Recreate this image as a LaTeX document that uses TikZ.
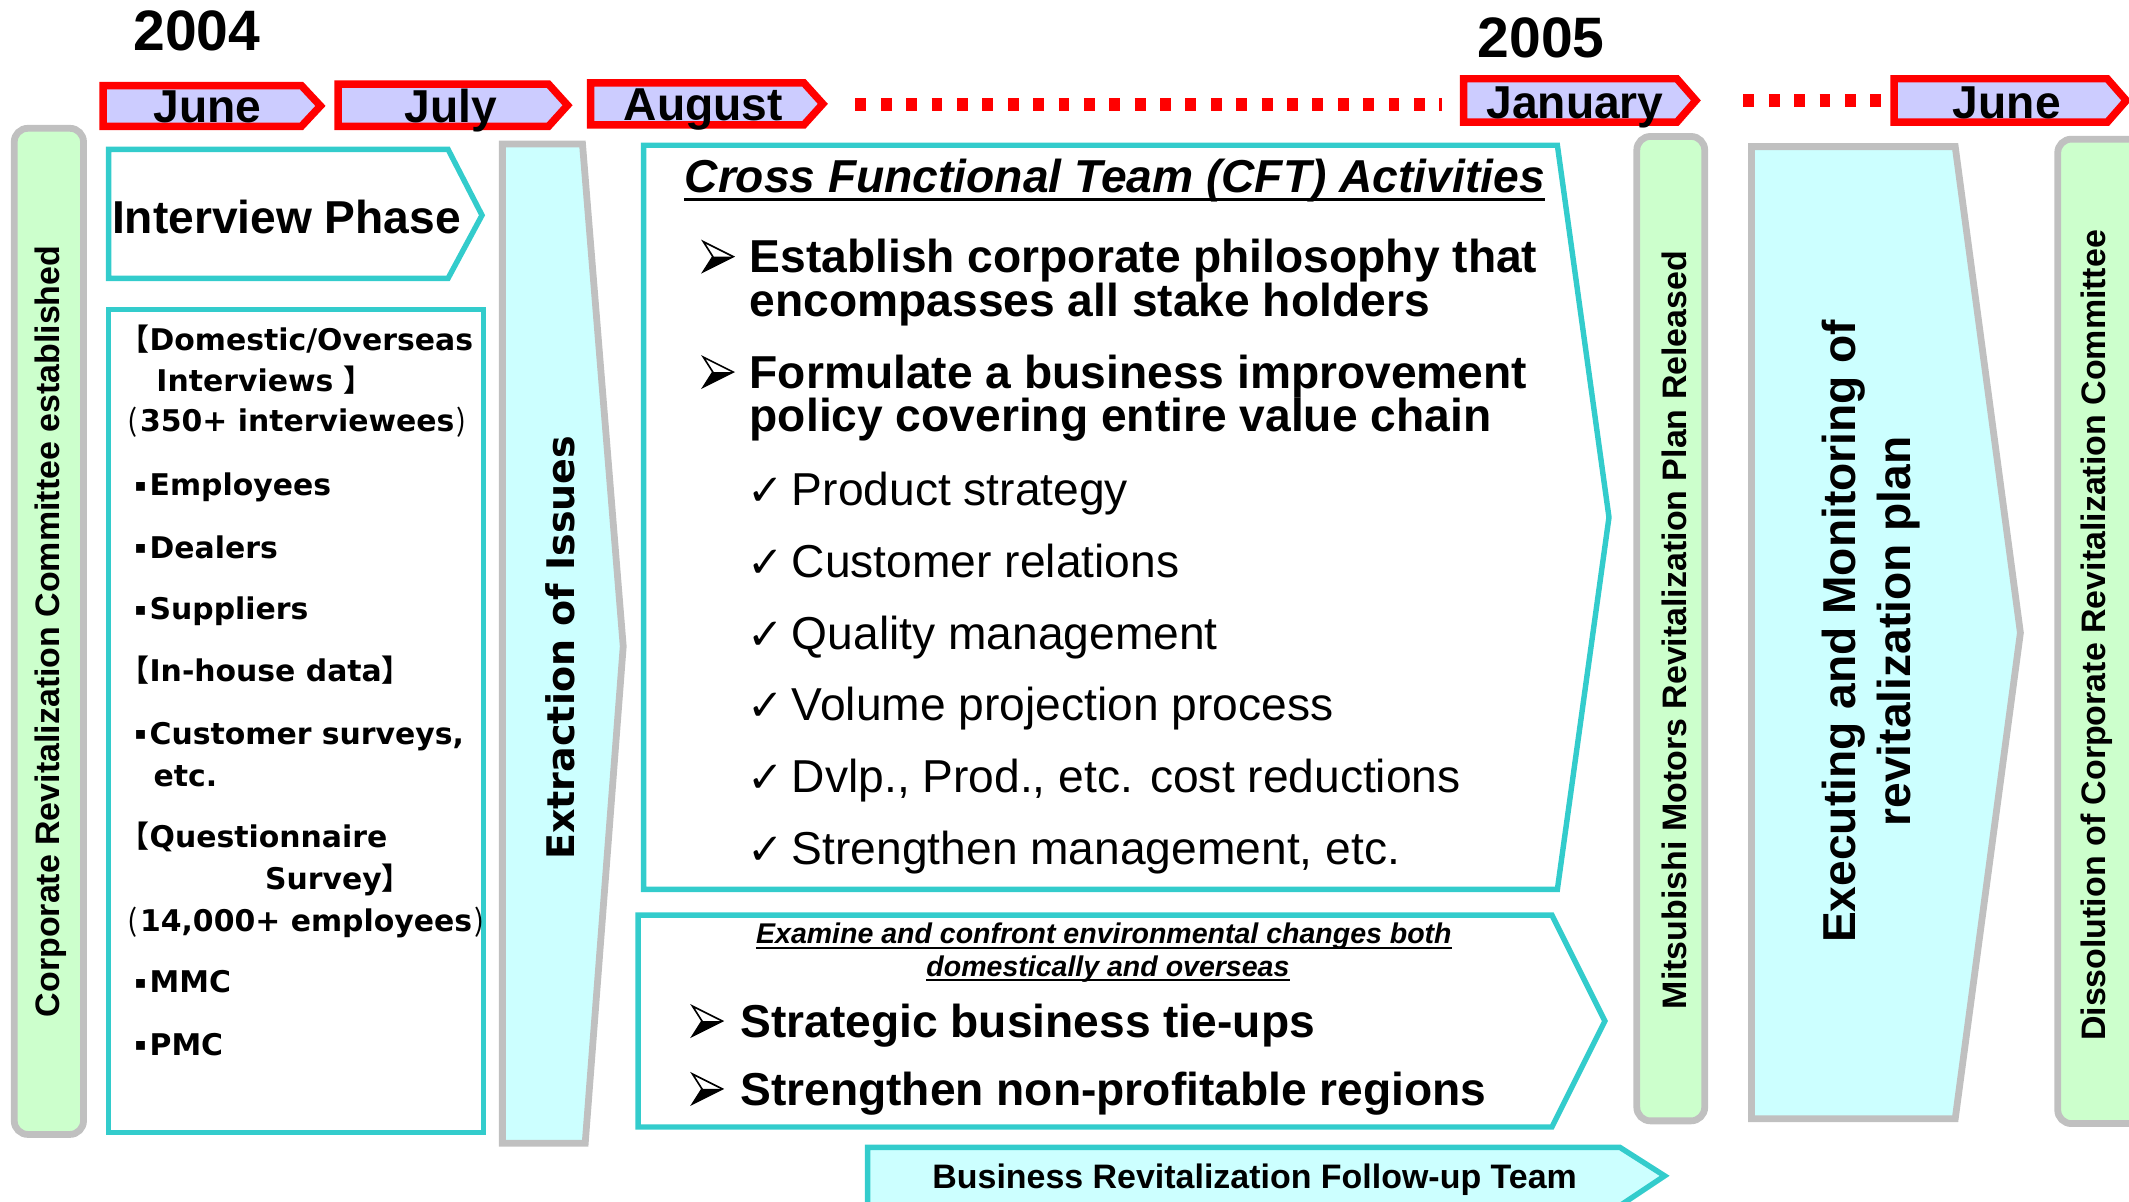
\documentclass[tikz,border=0pt]{standalone}
\usepackage{fontspec}
\setmainfont{Liberation Sans}
\newfontfamily\widefont{DejaVu Sans}
\newfontfamily\cjk{Noto Sans CJK JP}

\definecolor{monthfill}{HTML}{CCCCFF}
\definecolor{teamline}{HTML}{33CCCC}
\definecolor{teamfill}{HTML}{CCFFFF}
\definecolor{milefill}{HTML}{CCFFCC}
\definecolor{frameline}{HTML}{C0C0C0}

% bullet boxes, fixed width so the text lines up
\newcommand\tickmark{\makebox[33pt][l]{\widefont\fontsize{32}{32}\selectfont ✓}}
\newcommand\ivdot{\makebox[11pt][l]{\raisebox{3pt}{\widefont\fontsize{13}{13}\selectfont ▪}}}
\newcommand\ivlp{{\cjk\mdseries (}\hspace{1.5pt}}
\newcommand\ivrp{\hspace{1.5pt}{\cjk\mdseries )}}

\tikzset{
  % three-d arrowhead bullet
  pointer/.pic={
    \fill[white] (0,-11) -- (22,0) -- (7,0) -- cycle;
    \fill[black] (7,0) -- (22,0) -- (0,11) -- cycle;
    \draw[black, line width=1.2pt, line join=miter] (0,-11) -- (22,0) -- (0,11) -- (7,0) -- cycle;
  }
}

\begin{document}
\begin{tikzpicture}[x=1pt, y=-1pt,
    monthbox/.style={draw=red, line width=5.5pt, fill=monthfill},
    monthlabel/.style={anchor=base, inner sep=0pt, font=\fontsize{34}{34}\selectfont\bfseries},
    yearlabel/.style={anchor=base, inner sep=0pt, font=\fontsize{42}{42}\selectfont\bfseries},
    dotline/.style={red, line width=9pt, dash pattern=on 8pt off 10.7pt},
    milestone/.style={draw=frameline, line width=5pt, fill=milefill, rounded corners=10pt},
    miletext/.style={rotate=90, inner sep=0pt, font=\fontsize{25}{25}\selectfont\bfseries},
    teambox/.style={draw=teamline, line width=4pt, fill=white},
    stagebox/.style={draw=frameline, line width=5pt, fill=teamfill},
    ivtext/.style={anchor=base west, inner sep=0pt, font=\widefont\fontsize{22}{22}\selectfont\bfseries},
    cfttext/.style={anchor=base west, inner sep=0pt, font=\fontsize{34}{34}\selectfont\bfseries},
    checktext/.style={anchor=base west, inner sep=0pt, font=\fontsize{34}{34}\selectfont},
    envtext/.style={anchor=base, inner sep=0pt, font=\fontsize{21}{21}\selectfont\bfseries\itshape}
]
\useasboundingbox (0,0) rectangle (1568,885);
\clip (0,0) rectangle (1568,885);

% timeline
\node[yearlabel] (y2004) at (145,37) {2004};
\node[yearlabel] (y2005) at (1135,42) {2005};

\draw[monthbox] (76,63) -- (222,63) -- (236,78) -- (222,93) -- (76,93) -- cycle;
\draw[monthbox] (249,62) -- (404,62) -- (418,77.5) -- (404,93) -- (249,93) -- cycle;
\draw[monthbox] (435,61) -- (592,61) -- (606,76.5) -- (592,92) -- (435,92) -- cycle;
\draw[monthbox] (1078,58) -- (1235,58) -- (1249,74) -- (1235,90) -- (1078,90) -- cycle;
\draw[monthbox] (1395,58) -- (1552,58) -- (1566,74) -- (1552,90) -- (1395,90) -- cycle;

\node[monthlabel] (m jun) at (153,90) {June};
\node[monthlabel] (m jul) at (332,90) {July};
\node[monthlabel] (m aug) at (518,89) {August};
\node[monthlabel] (m jan) at (1160,87) {January};
\node[monthlabel] (m jun2) at (1478,87) {June};

\coordinate (gap1 a) at (630,77);
\coordinate (gap1 b) at (1062,77);
\coordinate (gap2 a) at (1284,74);
\coordinate (gap2 b) at (1386,74);
\draw[dotline] (gap1 a) -- (gap1 b);
\draw[dotline] (gap2 a) -- (gap2 b);

% committee milestones
\draw[milestone] (10.5,94.5) rectangle (61.5,835.5);
\draw[milestone] (1205.5,100.5) rectangle (1255.5,825.5);
\draw[milestone] (1515.5,102.5) rectangle (1585,827.5);
\node[miletext] (corp start) at (37,465) {Corporate Revitalization Committee established};
\node[miletext] (plan out) at (1233,464) {Mitsubishi Motors Revitalization Plan Released};
\node[miletext] (corp end) at (1544,468) {Dissolution of Corporate Revitalization Committee};

% interview phase
\draw[teambox] (80,110) -- (330,110) -- (355,158.5) -- (330,205) -- (80,205) -- cycle;
\node[anchor=base, inner sep=0pt, font=\fontsize{34}{34}\selectfont\bfseries] (iv phase) at (211,172) {Interview Phase};

\draw[teambox] (80,228) rectangle (356,834);
\node[ivtext] (iv1) at (88,258) {{\cjk 【}Domestic/Overseas};
\node[ivtext] (iv2) at (115,288) {Interviews {\cjk 】}};
\node[ivtext] (iv3) at (94,318) {\ivlp 350+ interviewees\ivrp};
\node[ivtext] (iv4) at (99,365) {\ivdot Employees};
\node[ivtext] (iv5) at (99,411) {\ivdot Dealers};
\node[ivtext] (iv6) at (99,456) {\ivdot Suppliers};
\node[ivtext] (iv7) at (88,502) {{\cjk 【}In-house data{\cjk 】}};
\node[ivtext] (iv8) at (99,548) {\ivdot Customer surveys,};
\node[ivtext] (iv9) at (113,579) {etc.};
\node[ivtext] (iv10) at (88,624) {{\cjk 【}Questionnaire};
\node[ivtext] (iv11) at (195,655) {Survey{\cjk 】}};
\node[ivtext] (iv12) at (94,686) {\ivlp 14,000+ employees\ivrp};
\node[ivtext] (iv13) at (99,731) {\ivdot MMC};
\node[ivtext] (iv14) at (99,777) {\ivdot PMC};

% extraction
\draw[stagebox] (370,106) -- (429,106) -- (459,476) -- (431,842) -- (370,842) -- cycle;
\node[rotate=90, inner sep=0pt, font=\widefont\fontsize{28}{28}\selectfont\bfseries] (extract) at (413,477) {Extraction of Issues};

% CFT activities
\draw[teambox] (474,107) -- (1147,107) -- (1185,381) -- (1147,655) -- (474,655) -- cycle;
\node[anchor=base, inner sep=0pt, font=\fontsize{34}{34}\selectfont\bfseries\itshape] (cft title) at (821,142) {Cross Functional Team (CFT) Activities};
\draw[line width=2.5pt] ([yshift=-5pt]cft title.base west) -- ([yshift=-5pt]cft title.base east);

\pic at (518,189) {pointer};
\pic at (518,274) {pointer};
\node[cfttext] (cft a1) at (552,201) {Establish corporate philosophy that};
\node[cfttext] (cft a2) at (552,233) {encompasses all stake holders};
\node[cfttext] (cft b1) at (552,286) {Formulate a business improvement};
\node[cfttext] (cft b2) at (552,318) {policy covering entire value chain};

\foreach \txt [count=\i] in {Product strategy, Customer relations, Quality management,
    Volume projection process, {Dvlp., Prod., etc. cost reductions}, {Strengthen management, etc.}}
  \node[checktext] (chk\i) at (550,{372+53*(\i-1)}) {\tickmark\txt};

% environment changes
\draw[teambox] (470,674) -- (1143,674) -- (1182,752) -- (1143,830) -- (470,830) -- cycle;
\node[envtext] (env1) at (813,695) {Examine and confront environmental changes both};
\node[envtext] (env2) at (816,719) {domestically and overseas};
\draw[line width=1.5pt] ([yshift=-3pt]env1.base west) -- ([yshift=-3pt]env1.base east);
\draw[line width=1.5pt] ([yshift=-3pt]env2.base west) -- ([yshift=-3pt]env2.base east);
\pic at (510,752) {pointer};
\pic at (510,802) {pointer};
\node[cfttext] (env a) at (545,764) {Strategic business tie-ups};
\node[cfttext] (env b) at (545,814) {Strengthen non-profitable regions};

% follow-up team
\draw[draw=teamline, line width=4pt, fill=teamfill] (639,845) -- (1193,845) -- (1226,866) -- (1193,888) -- (639,888) -- cycle;
\node[anchor=base, inner sep=0pt, font=\fontsize{25}{25}\selectfont\bfseries] (followup) at (924,875) {Business Revitalization Follow-up Team};

% execution
\draw[stagebox] (1290,108) -- (1440,108) -- (1488,466) -- (1440,824) -- (1290,824) -- cycle;
\node[rotate=90, inner sep=0pt, align=center, font=\fontsize{34}{41}\selectfont\bfseries] (execute) at (1378,465) {Executing and Monitoring of\\revitalization plan};
\end{tikzpicture}
\end{document}
